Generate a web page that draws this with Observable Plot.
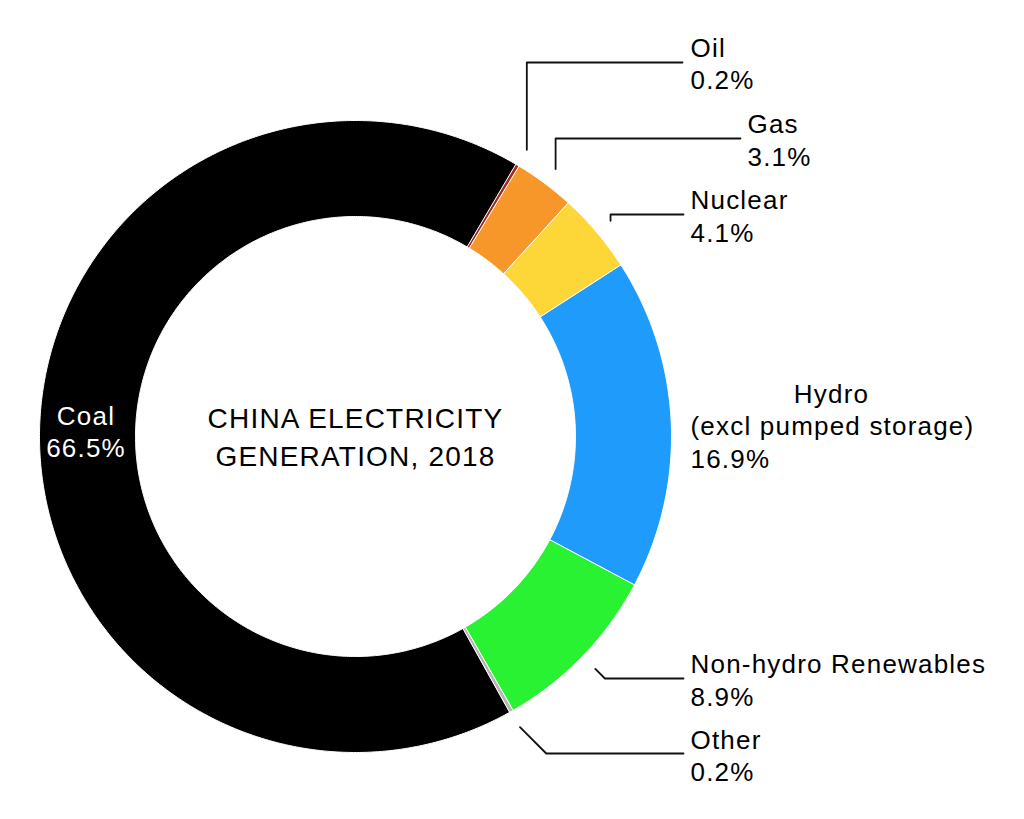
<!DOCTYPE html>
<html>
<head>
<meta charset="utf-8">
<script src="https://cdn.jsdelivr.net/npm/d3@7"></script>
<script src="https://cdn.jsdelivr.net/npm/@observablehq/plot@0.6"></script>
<style>
  html, body { margin: 0; padding: 0; background: #fff; }
  #chart svg { display: block; }
</style>
</head>
<body>
<div id="chart"></div>
<script>
// ---- data (clockwise order, starting after Coal) ----
const sources = ["Oil", "Gas", "Nuclear", "Hydro", "Non-hydro Renewables", "Other", "Coal"];
const shares  = [0.2, 3.1, 4.1, 16.9, 8.9, 0.2, 66.5];
const colors  = ["#a8261c", "#f7972a", "#fdd738", "#1e9bfb", "#29f233", "#b5b5b5", "#000000"];
const labelLines = [
  ["Oil", "0.2%"],
  ["Gas", "3.1%"],
  ["Nuclear", "4.1%"],
  ["Hydro", "(excl pumped storage)", "16.9%"],
  ["Non-hydro Renewables", "8.9%"],
  ["Other", "0.2%"],
  ["Coal", "66.5%"]
];
const centerTitle = ["CHINA ELECTRICITY", "GENERATION, 2018"];

// ---- layout ----
const W = 1024, H = 819;
const cx = 355, cy = 436, rOuter = 316, rInner = 220, rLeader = 334;
const startAngle = 30.5; // degrees clockwise from 12 o'clock
const FONT = "'Liberation Sans', Arial, Helvetica, sans-serif";
// label layout per source: text x, first baseline, line step, anchors per line, leader
const labelLayout = {
  "Oil":     {x: 690, y: 56,  step: 32, anchors: ["start","start"], leader: {type: "v", y: 62,  x: 682}},
  "Gas":     {x: 747, y: 132, step: 33, anchors: ["start","start"], leader: {type: "v", y: 138, x: 740}},
  "Nuclear": {x: 690, y: 208, step: 33, anchors: ["start","start"], leader: {type: "v", y: 214, x: 683}},
  "Hydro":   {x: 690, y: 402, step: 32.5, anchors: ["middle","start","start"], midX: 831},
  "Non-hydro Renewables": {x: 690, y: 672, step: 33, anchors: ["start","start"], leader: {type: "d", y: 678, x: 683}},
  "Other":   {x: 690, y: 748, step: 32, anchors: ["start","start"], leader: {type: "d", y: 753, x: 683}},
  "Coal":    {x: 85.5, y: 424, step: 32, anchors: ["middle","middle"], fill: "#fff"}
};

// ---- geometry derived from the data ----
const total = d3.sum(shares);
const rad = a => (a * Math.PI) / 180;
const pt = (r, a) => [cx + r * Math.sin(rad(a)), cy - r * Math.cos(rad(a))];

let acc = 0;
const slices = sources.map((name, i) => {
  const a0 = startAngle + (acc / total) * 360;
  acc += shares[i];
  const a1 = startAngle + (acc / total) * 360;
  return {name, value: shares[i], a0, a1, mid: (a0 + a1) / 2};
});

const ringPts = [];
for (const s of slices) {
  const n = Math.max(2, Math.ceil((s.a1 - s.a0) / 0.5));
  for (let k = 0; k <= n; k++) {
    const a = s.a0 + ((s.a1 - s.a0) * k) / n;
    const [x, y] = pt(rOuter, a);
    ringPts.push({name: s.name, x, y});
  }
  for (let k = n; k >= 0; k--) {
    const a = s.a0 + ((s.a1 - s.a0) * k) / n;
    const [x, y] = pt(rInner, a);
    ringPts.push({name: s.name, x, y});
  }
}

const leaderPts = [];
const textRows = [];
slices.forEach((s, i) => {
  const L = labelLayout[s.name];
  labelLines[i].forEach((t, j) => {
    const anchor = L.anchors[j];
    textRows.push({
      text: t,
      x: anchor === "middle" && L.midX ? L.midX : L.x,
      y: L.y + j * L.step,
      anchor,
      fill: L.fill || "#000"
    });
  });
  if (L.leader) {
    const [sx, sy] = pt(rLeader, s.mid);
    const ld = L.leader;
    const ex = ld.type === "v" ? sx : sx + Math.abs(ld.y - sy);
    leaderPts.push({name: s.name, x: sx, y: sy});
    leaderPts.push({name: s.name, x: ex, y: ld.y});
    leaderPts.push({name: s.name, x: ld.x, y: ld.y});
  }
});
centerTitle.forEach((t, j) => textRows.push({text: t, x: cx, y: 427 + j * 38, anchor: "middle", fill: "#000", big: true}));

const textMark = (rows, opts) => Plot.text(rows, {
  x: "x", y: "y", text: "text", lineAnchor: "bottom", ...opts
});

const chart = Plot.plot({
  width: W,
  height: H,
  margin: 0,
  style: {fontFamily: FONT, background: "#fff"},
  x: {domain: [0, W], range: [0, W], axis: null},
  y: {domain: [0, H], range: [0, H], axis: null},
  color: {domain: sources, range: colors},
  marks: [
    Plot.line(ringPts, {x: "x", y: "y", z: "name", fill: "name", stroke: "#fff", strokeWidth: 1, curve: "linear-closed"}),
    Plot.line(leaderPts, {x: "x", y: "y", z: "name", stroke: "#111", strokeWidth: 1.8}),
    textMark(textRows.filter(d => !d.big && d.anchor === "start"), {textAnchor: "start", fill: "fill", fontSize: 26}),
    textMark(textRows.filter(d => !d.big && d.anchor === "middle"), {textAnchor: "middle", fill: "fill", fontSize: 26}),
    textMark(textRows.filter(d => d.big), {textAnchor: "middle", fill: "#000", fontSize: 28})
  ]
});
d3.select(chart).selectAll("text").attr("letter-spacing", "1.2px");
document.getElementById("chart").appendChild(chart);
</script>
</body>
</html>
